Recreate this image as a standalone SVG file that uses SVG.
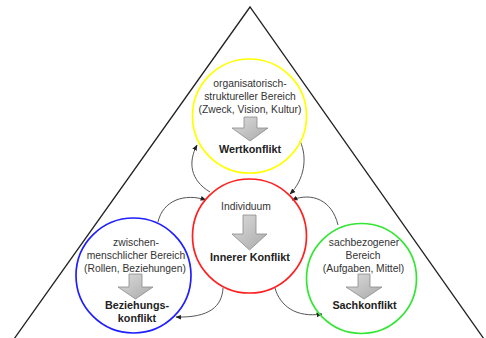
<svg xmlns="http://www.w3.org/2000/svg" width="486" height="338" viewBox="0 0 486 338">
<defs>
<linearGradient id="ag" x1="0" y1="0" x2="1" y2="1">
<stop offset="0" stop-color="#dcdcdc"/>
<stop offset="1" stop-color="#aaaaaa"/>
</linearGradient>
<marker id="ah" viewBox="0 0 10 10" refX="9" refY="5" markerWidth="6" markerHeight="6" markerUnits="userSpaceOnUse" orient="auto">
<path d="M0,1 L10,5 L0,9 Z" fill="#222"/>
</marker>
<style>
.ring{fill:none;stroke-width:1.7}
.blk{fill:url(#ag);stroke:#8a8a8a;stroke-width:0.8}
.t{font-family:"Liberation Sans",Arial,sans-serif;font-size:10.3px;fill:#333;text-anchor:middle}
.b{font-family:"Liberation Sans",Arial,sans-serif;font-size:10.8px;font-weight:bold;fill:#222;text-anchor:middle}
.c{fill:none;stroke:#555;stroke-width:1}
</style>
</defs>
<rect width="486" height="338" fill="#fff"/>
<polyline points="14,339 250,7 484,339" fill="none" stroke="#222" stroke-width="1.3"/>
<g id="connectors">
<path class="c" d="M210,192 C190,180 188,162 197,145" marker-end="url(#ah)"/>
<path class="c" d="M300,141 C308,158 304,180 290,194" marker-end="url(#ah)"/>
<path class="c" d="M158,222 C163,200 185,193 206,200" marker-end="url(#ah)"/>
<path class="c" d="M338,225 C332,200 312,192 292,200" marker-end="url(#ah)"/>
<path class="c" d="M223,288 C222,306 210,318 176,317" marker-end="url(#ah)"/>
<path class="c" d="M275,288 C280,306 296,318 322,314" marker-end="url(#ah)"/>
</g>
<g id="yellow">
<circle class="ring" cx="249.5" cy="116" r="57" stroke="#ffff00"/>
<text class="t" x="250" y="87">organisatorisch-</text>
<text class="t" x="250" y="100">struktureller Bereich</text>
<text class="t" x="250" y="113">(Zweck, Vision, Kultur)</text>
<path class="blk" d="M244,117 H257 V128 H268 L250,141 L232,128 H244 Z"/>
<text class="b" x="250" y="153">Wertkonflikt</text>
</g>
<g id="red">
<circle class="ring" cx="249.5" cy="236" r="57" stroke="#ff2020"/>
<text class="t" x="246" y="210">Individuum</text>
<path class="blk" d="M243,215 H256 V234 H267 L249.5,250 L232,234 H243 Z"/>
<text class="b" x="250" y="261">Innerer Konflikt</text>
</g>
<g id="blue">
<circle class="ring" cx="133.5" cy="275.5" r="57.5" stroke="#2020ff"/>
<text class="t" x="136" y="246">zwischen-</text>
<text class="t" x="136" y="259">menschlicher Bereich</text>
<text class="t" x="135" y="272">(Rollen, Beziehungen)</text>
<path class="blk" d="M129,274 H142 V287 H153 L135.5,299 L118,287 H129 Z"/>
<text class="b" x="137" y="309">Beziehungs-</text>
<text class="b" x="137" y="321.5">konflikt</text>
</g>
<g id="green">
<circle class="ring" cx="361.5" cy="278.5" r="55" stroke="#33e633"/>
<text class="t" x="364" y="246">sachbezogener</text>
<text class="t" x="363" y="258.5">Bereich</text>
<text class="t" x="363.5" y="271.5">(Aufgaben, Mittel)</text>
<path class="blk" d="M358,274 H370 V287 H382 L364,299 L346,287 H358 Z"/>
<text class="b" x="364.5" y="309">Sachkonflikt</text>
</g>
</svg>
